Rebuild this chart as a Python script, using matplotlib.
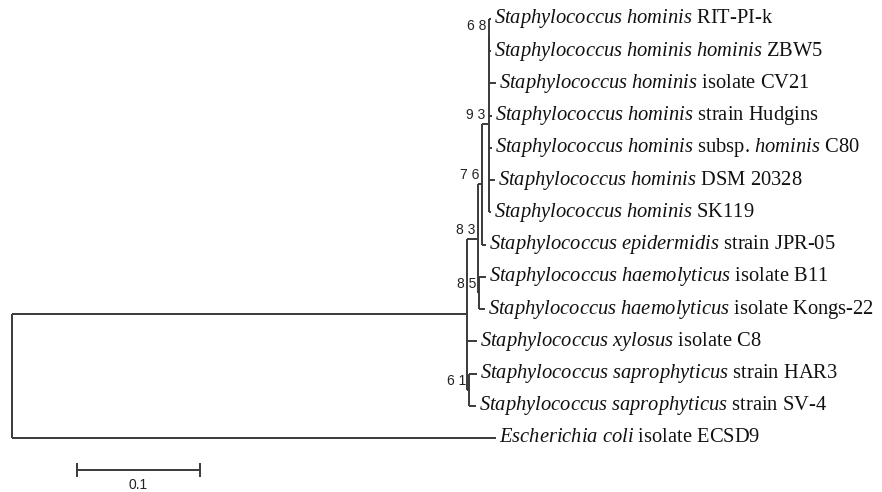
import matplotlib
matplotlib.use("Agg")
import matplotlib.pyplot as plt

plt.rcParams.update({
    "font.family": "Liberation Serif",
    "mathtext.fontset": "custom",
    "mathtext.rm": "Liberation Serif",
    "mathtext.it": "Liberation Serif:italic",
})

# ── Tree (branch lengths in substitutions per site) ────
node_names = ["root", "main", "ecoli", "n83", "xylosus", "n61", "har3", "sv4",
              "n76", "n85", "b11", "kongs", "epi", "n93", "n68", "rit", "zbw5",
              "cv21", "hudgins", "c80", "dsm", "sk119"]
node_parents = [None, "root", "root", "main", "main", "main", "n61", "n61",
                "n83", "n83", "n85", "n85", "n76", "n76", "n93", "n68", "n68",
                "n93", "n93", "n93", "n93", "n93"]
branch_len = [0.0, 0.3699, 0.3935, 0.0089, 0.0081, 0.0016, 0.0065, 0.0057,
              0.0037, 0.0012, 0.0053, 0.0045, 0.0028, 0.0049, 0.0008, 0.0012, 0.0012,
              0.0061, 0.0028, 0.0028, 0.0053, 0.0020]

# top-to-bottom order of the leaves and their labels
tip_order = ["rit", "zbw5", "cv21", "hudgins", "c80", "dsm", "sk119", "epi",
             "b11", "kongs", "xylosus", "har3", "sv4", "ecoli"]
tip_labels = [
    r"$\mathit{Staphylococcus\ hominis}$ RIT-PI-k",
    r"$\mathit{Staphylococcus\ hominis\ hominis}$ ZBW5",
    r"$\mathit{Staphylococcus\ hominis}$ isolate CV21",
    r"$\mathit{Staphylococcus\ hominis}$ strain Hudgins",
    r"$\mathit{Staphylococcus\ hominis}$ subsp. $\mathit{hominis}$ C80",
    r"$\mathit{Staphylococcus\ hominis}$ DSM 20328",
    r"$\mathit{Staphylococcus\ hominis}$ SK119",
    r"$\mathit{Staphylococcus\ epidermidis}$ strain JPR-05",
    r"$\mathit{Staphylococcus\ haemolyticus}$ isolate B11",
    r"$\mathit{Staphylococcus\ haemolyticus}$ isolate Kongs-22",
    r"$\mathit{Staphylococcus\ xylosus}$ isolate C8",
    r"$\mathit{Staphylococcus\ saprophyticus}$ strain HAR3",
    r"$\mathit{Staphylococcus\ saprophyticus}$ strain SV-4",
    r"$\mathit{Escherichia\ coli}$ isolate ECSD9",
]

boot_nodes = ["n68", "n93", "n76", "n83", "n85", "n61"]
boot_values = ["6 8", "9 3", "7 6", "8 3", "8 5", "6 1"]

scale_len = 0.1

# ── Layout from the tree ───────────────────────────────
parent = dict(zip(node_names, node_parents))
blen = dict(zip(node_names, branch_len))
children = {n: [] for n in node_names}
for n, p in parent.items():
    if p is not None:
        children[p].append(n)

xpos = {}
for n in node_names:
    xpos[n] = 0.0 if parent[n] is None else xpos[parent[n]] + blen[n]

ypos = {t: i for i, t in enumerate(tip_order)}


def set_y(n):
    if n in ypos:
        return ypos[n]
    ys = [set_y(c) for c in children[n]]
    ypos[n] = (min(ys) + max(ys)) / 2
    return ypos[n]


set_y("root")

# ── Figure ─────────────────────────────────────────────
fig = plt.figure(figsize=(8.82, 4.92), dpi=100)
ax = fig.add_axes([0, 0, 1, 1])
px = 1230.0  # pixels per unit branch length
ax.set_xlim(-12 / px, (882 - 12) / px)
step = 32.23
ax.set_ylim((492 - 19) / step, -19 / step)
ax.axis("off")

lc = "#3a3a3a"
lw = 1.4
for n in node_names:
    p = parent[n]
    if p is not None:
        ax.plot([xpos[p], xpos[n]], [ypos[n], ypos[n]], color=lc, lw=lw,
                solid_capstyle="butt")
    if children[n]:
        ys = [ypos[c] for c in children[n]]
        ax.plot([xpos[n], xpos[n]], [min(ys), max(ys)], color=lc, lw=lw,
                solid_capstyle="butt")

for t, lab in zip(tip_order, tip_labels):
    ax.annotate(lab, (xpos[t], ypos[t]), xytext=(2.5, 0), textcoords="offset points",
                ha="left", va="center", fontsize=14.8, color="#111111")

for n, b in zip(boot_nodes, boot_values):
    ax.annotate(b, (xpos[n], ypos[n]), xytext=(-2, 6.5), textcoords="offset points",
                ha="right", va="center", fontsize=10, family="Liberation Sans",
                color="#222222")

# ── Scale bar ──────────────────────────────────────────
sb_x0 = 65 / px
sb_y = (470 - 19) / step
ax.plot([sb_x0, sb_x0 + scale_len], [sb_y, sb_y], color=lc, lw=lw)
for xx in (sb_x0, sb_x0 + scale_len):
    ax.plot([xx, xx], [sb_y - 0.19, sb_y + 0.19], color=lc, lw=lw)
ax.annotate("0.1", (sb_x0 + scale_len / 2, sb_y), xytext=(0, -11),
            textcoords="offset points", ha="center", va="center", fontsize=10,
            family="Liberation Sans", color="#222222")

fig.savefig("out.png", dpi=100)
